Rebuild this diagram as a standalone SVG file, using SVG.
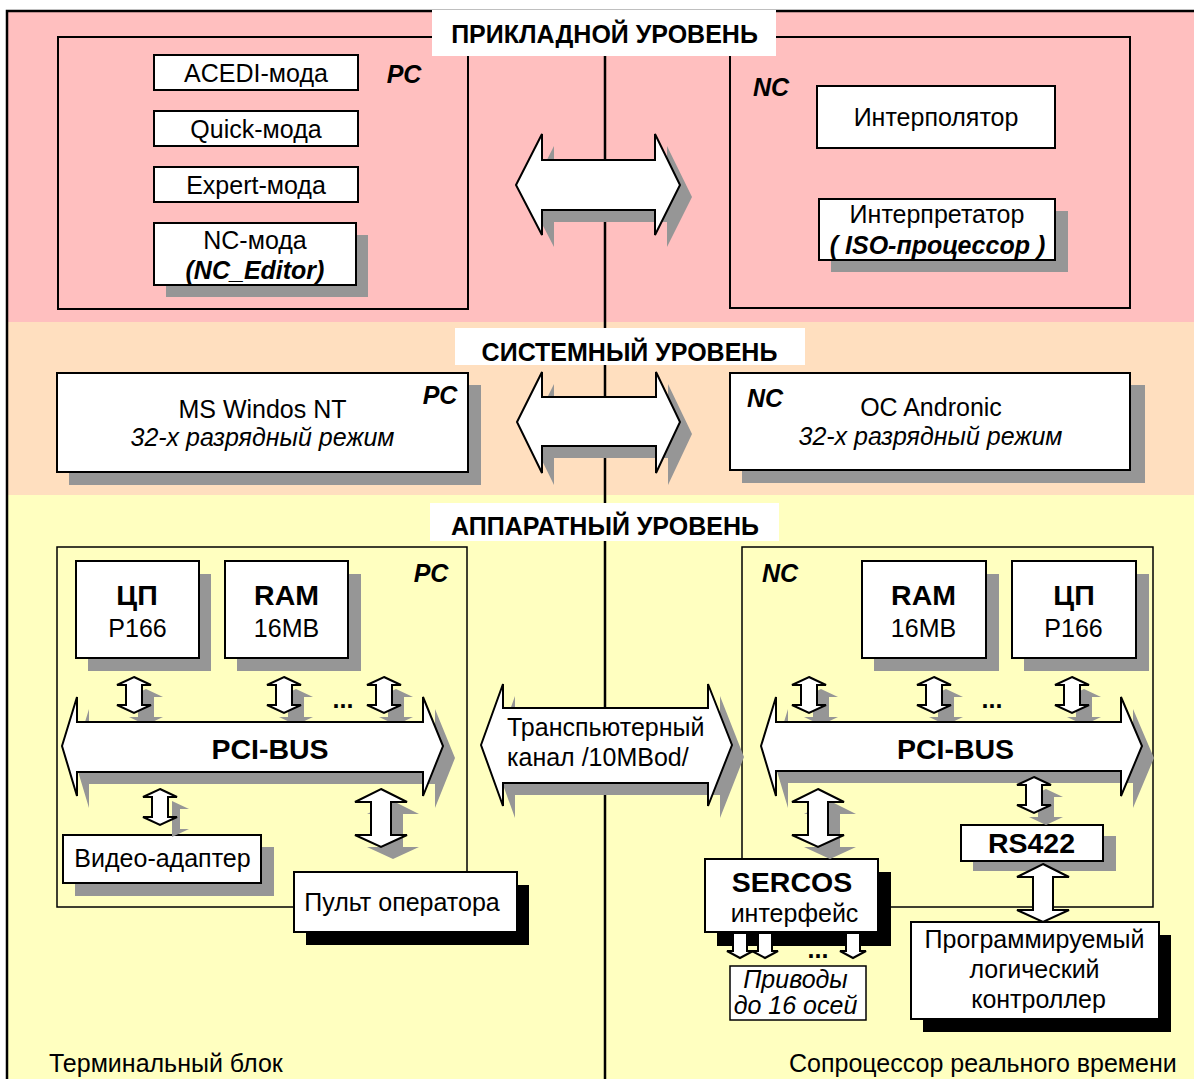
<svg xmlns="http://www.w3.org/2000/svg" width="1194" height="1079" viewBox="0 0 1194 1079">
  <defs>
    <style>
      .t{font-family:"Liberation Sans",Arial,sans-serif;font-size:25px;fill:#000}
      .c{text-anchor:middle}
      .b{font-weight:bold}
      .i{font-style:italic}
      .big{font-size:28.5px}
      .box{fill:#fff;stroke:#000;stroke-width:2}
      .thin{stroke-width:1.5}
      .sh{fill:#969696}
      .shk{fill:#000}
      .frame{fill:none;stroke:#000;stroke-width:2}
      .hwframe{fill:none;stroke:#000;stroke-width:1.5}
      .arr{fill:#fff;stroke:#000;stroke-width:2}
      .title{fill:#fff}
    </style>
    <!-- small vertical double arrow, 36 tall -->
    <path id="sArr" d="M0,0 L17,8 L8,8 L8,28 L17,28 L0,36 L-17,28 L-8,28 L-8,8 L-17,8 Z"/>
    <!-- large vertical double arrow, 58 tall -->
    <path id="bArr" d="M0,0 L26,13 L10,13 L10,46 L26,46 L0,58 L-26,46 L-10,46 L-10,13 L-26,13 Z"/>
    <!-- single down arrow to drives -->
    <path id="dArr" d="M-7,0 L7,0 L7,18 L13,18 L0,25 L-13,18 L-7,18 Z"/>
    <clipPath id="aboveVideo"><rect x="0" y="0" width="600" height="835"/></clipPath>
    <clipPath id="abovePlc"><rect x="900" y="0" width="294" height="922"/></clipPath>
  </defs>

  <!-- background bands -->
  <rect x="0" y="0" width="1194" height="1079" fill="#fff"/>
  <rect x="7" y="11" width="1187" height="311" fill="#FFBFBF"/>
  <rect x="7" y="322" width="1187" height="173" fill="#FFDFBF"/>
  <rect x="7" y="495" width="1187" height="584" fill="#FFFFC0"/>
  <path d="M7,1079 V11 H1194" fill="none" stroke="#000" stroke-width="2.5"/>

  <!-- PC / NC divider -->
  <line x1="605" y1="55" x2="605" y2="1079" stroke="#000" stroke-width="2.5"/>

  <!-- container frames -->
  <g id="app-pc-frame"><rect class="frame" x="58" y="37" width="410" height="272"/></g>
  <g id="app-nc-frame"><rect class="frame" x="730" y="37" width="400" height="271"/></g>
  <g id="hw-pc-frame"><rect class="hwframe" x="57" y="547" width="410" height="360"/></g>
  <g id="hw-nc-frame"><rect class="hwframe" x="742" y="547" width="411" height="360"/></g>

  <!-- level titles -->
  <g id="title-app">
    <rect class="title" x="432" y="10" width="344" height="46"/>
    <text class="t b c" x="604.5" y="43">ПРИКЛАДНОЙ УРОВЕНЬ</text>
  </g>
  <g id="title-sys">
    <rect class="title" x="455" y="328" width="350" height="37"/>
    <text class="t b c" x="629.5" y="361">СИСТЕМНЫЙ УРОВЕНЬ</text>
  </g>
  <g id="title-hw">
    <rect class="title" x="430" y="503" width="349" height="38"/>
    <text class="t b c" x="605" y="535">АППАРАТНЫЙ УРОВЕНЬ</text>
  </g>

  <!-- application level, PC side -->
  <g id="acedi">
    <rect class="box" x="154" y="55" width="204" height="35"/>
    <text class="t c" x="256" y="82">ACEDI-мода</text>
  </g>
  <g id="quick">
    <rect class="box" x="154" y="111" width="204" height="35"/>
    <text class="t c" x="256" y="138">Quick-мода</text>
  </g>
  <g id="expert">
    <rect class="box" x="154" y="167" width="204" height="35"/>
    <text class="t c" x="256" y="194">Expert-мода</text>
  </g>
  <g id="nc-mode">
    <rect class="sh" x="166" y="235" width="202" height="62"/>
    <rect class="box" x="154" y="223" width="202" height="62"/>
    <text class="t c" x="255" y="249">NC-мода</text>
    <text class="t b i c" x="255" y="279">(NC_Editor)</text>
  </g>
  <g id="app-pc-label"><text class="t b i c" x="404" y="83">PC</text></g>

  <!-- application level, NC side -->
  <g id="app-nc-label"><text class="t b i c" x="771" y="96">NC</text></g>
  <g id="interpolator">
    <rect class="box" x="817" y="86" width="238" height="62"/>
    <text class="t c" x="936" y="126">Интерполятор</text>
  </g>
  <g id="interpreter">
    <rect class="sh" x="831" y="211" width="237" height="61"/>
    <rect class="box" x="819" y="199" width="236" height="61"/>
    <text class="t c" x="937" y="223">Интерпретатор</text>
    <text class="t b i c" x="937.5" y="254">( ISO-процессор )</text>
  </g>

  <!-- system level -->
  <g id="sys-pc">
    <rect class="sh" x="69" y="385" width="412" height="100"/>
    <rect class="box" x="57" y="373" width="411" height="99"/>
    <text class="t c" x="262.5" y="418">MS Windos NT</text>
    <text class="t i c" x="262.5" y="446">32-х разрядный режим</text>
    <text class="t b i c" x="440" y="404">PC</text>
  </g>
  <g id="sys-nc">
    <rect class="sh" x="742" y="385" width="403" height="98"/>
    <rect class="box" x="730" y="373" width="400" height="97"/>
    <text class="t b i c" x="765" y="407">NC</text>
    <text class="t c" x="931" y="416">OC Andronic</text>
    <text class="t i c" x="930.5" y="445">32-х разрядный режим</text>
  </g>

  <!-- hardware level, PC side -->
  <g id="hw-pc-label"><text class="t b i c" x="431" y="582">PC</text></g>
  <g id="cpu-pc">
    <rect class="sh" x="88" y="574" width="123" height="97"/>
    <rect class="box" x="76" y="561" width="123" height="97"/>
    <text class="t b big c" x="137" y="605">ЦП</text>
    <text class="t c" x="137.5" y="637">P166</text>
  </g>
  <g id="ram-pc">
    <rect class="sh" x="237" y="574" width="124" height="97"/>
    <rect class="box" x="225" y="561" width="123" height="97"/>
    <text class="t b big c" x="286.5" y="605">RAM</text>
    <text class="t c" x="286.5" y="637">16MB</text>
  </g>
  <g id="video">
    <rect class="sh" x="75" y="847" width="199" height="49"/>
    <rect class="box" x="63" y="835" width="198" height="48"/>
    <text class="t c" x="162.5" y="867">Видео-адаптер</text>
  </g>
  <g id="console">
    <rect class="shk" x="306" y="885" width="223" height="60"/>
    <rect class="box" x="294" y="872" width="223" height="60"/>
    <text class="t c" x="402" y="911">Пульт оператора</text>
  </g>
  <g id="terminal-label"><text class="t" x="49" y="1072">Терминальный блок</text></g>

  <!-- hardware level, NC side -->
  <g id="hw-nc-label"><text class="t b i c" x="780" y="582">NC</text></g>
  <g id="ram-nc">
    <rect class="sh" x="874" y="574" width="125" height="97"/>
    <rect class="box" x="862" y="561" width="124" height="97"/>
    <text class="t b big c" x="923.5" y="605">RAM</text>
    <text class="t c" x="923.5" y="637">16MB</text>
  </g>
  <g id="cpu-nc">
    <rect class="sh" x="1024" y="574" width="125" height="97"/>
    <rect class="box" x="1012" y="561" width="124" height="97"/>
    <text class="t b big c" x="1074" y="605">ЦП</text>
    <text class="t c" x="1073.5" y="637">P166</text>
  </g>
  <g id="rs422">
    <rect class="sh" x="973" y="836" width="143" height="35"/>
    <rect class="box" x="961" y="825" width="142" height="36"/>
    <text class="t b big c" x="1031.5" y="853">RS422</text>
  </g>
  <g id="sercos">
    <rect class="shk" x="717" y="872" width="174" height="74"/>
    <rect class="box" x="705" y="859" width="173" height="73"/>
    <text class="t b big c" x="792" y="892">SERCOS</text>
    <text class="t c" x="794.5" y="922">интерфейс</text>
  </g>
  <g id="drives">
    <rect class="box thin" x="730" y="966" width="136" height="54"/>
    <text class="t i c" x="795.5" y="988">Приводы</text>
    <text class="t i c" x="795.5" y="1014">до 16 осей</text>
  </g>
  <g id="plc">
    <rect class="shk" x="923" y="935" width="248" height="97"/>
    <rect class="box" x="911" y="922" width="248" height="97"/>
    <text class="t c" x="1034.5" y="948">Программируемый</text>
    <text class="t c" x="1034.5" y="978">логический</text>
    <text class="t c" x="1038.5" y="1008">контроллер</text>
  </g>
  <g id="coprocessor-label"><text class="t" x="789" y="1072">Сопроцессор реального времени</text></g>

  <!-- connectors -->
  <g id="connectors">
    <!-- shadows -->
    <g class="sh">
      <path transform="translate(12,12)" d="M516,185 L542,134 V160 H655 V134 L680,185 L655,235 V210 H542 V235 Z"/>
      <path transform="translate(12,12)" d="M517,422 L542,372 V397 H656 V372 L680,422 L656,473 V446 H542 V473 Z"/>
      <path transform="translate(12,12)" d="M481,745 L503,684 V708 H708 V684 L732,745 L708,806 V783 H503 V806 Z"/>
      <path transform="translate(12,12)" d="M62,746 L77,697 V722 H423 V697 L443,746 L423,796 V772 H77 V796 Z"/>
      <path transform="translate(12,12)" d="M761,746 L776,697 V722 H1121 V697 L1142,746 L1121,796 V771 H776 V796 Z"/>
      <use href="#sArr" x="146" y="689"/>
      <use href="#sArr" x="296" y="689"/>
      <use href="#sArr" x="396" y="689"/>
      <use href="#sArr" x="821" y="689"/>
      <use href="#sArr" x="946" y="689"/>
      <use href="#sArr" x="1084" y="689"/>
      <use href="#sArr" x="172" y="801" clip-path="url(#aboveVideo)"/>
      <use href="#sArr" x="1046" y="789"/>
      <use href="#bArr" x="393" y="801"/>
      <use href="#bArr" x="830" y="801"/>
      <use href="#bArr" x="1055" y="876" clip-path="url(#abovePlc)"/>
    </g>
    <!-- PC to NC links -->
    <path class="arr" d="M516,185 L542,134 V160 H655 V134 L680,185 L655,235 V210 H542 V235 Z"/>
    <path class="arr" d="M517,422 L542,372 V397 H656 V372 L680,422 L656,473 V446 H542 V473 Z"/>
    <!-- device to bus links -->
    <use class="arr" href="#sArr" x="134" y="677"/>
    <use class="arr" href="#sArr" x="284" y="677"/>
    <use class="arr" href="#sArr" x="384" y="677"/>
    <use class="arr" href="#sArr" x="809" y="677"/>
    <use class="arr" href="#sArr" x="934" y="677"/>
    <use class="arr" href="#sArr" x="1072" y="677"/>
    <text class="t b c" x="343" y="708">...</text>
    <text class="t b c" x="992" y="708">...</text>
    <!-- PCI buses -->
    <path class="arr" d="M62,746 L77,697 V722 H423 V697 L443,746 L423,796 V772 H77 V796 Z"/>
    <text class="t b big c" x="270" y="759">PCI-BUS</text>
    <path class="arr" d="M761,746 L776,697 V722 H1121 V697 L1142,746 L1121,796 V771 H776 V796 Z"/>
    <text class="t b big c" x="955.5" y="759">PCI-BUS</text>
    <!-- transputer channel -->
    <path class="arr" d="M481,745 L503,684 V708 H708 V684 L732,745 L708,806 V783 H503 V806 Z"/>
    <text class="t" x="507" y="736">Транспьютерный</text>
    <text class="t" x="507" y="766">канал /10MBod/</text>
    <!-- peripherals -->
    <use class="arr" href="#sArr" x="160" y="789"/>
    <use class="arr" href="#bArr" x="381" y="789"/>
    <use class="arr" href="#bArr" x="818" y="789"/>
    <use class="arr" href="#sArr" x="1034" y="777"/>
    <use class="arr" href="#bArr" x="1043" y="864"/>
    <!-- drives -->
    <use class="arr" href="#dArr" x="740" y="933"/>
    <use class="arr" href="#dArr" x="765" y="933"/>
    <use class="arr" href="#dArr" x="853" y="933"/>
    <text class="t b c" x="818" y="958">...</text>
  </g>
</svg>
